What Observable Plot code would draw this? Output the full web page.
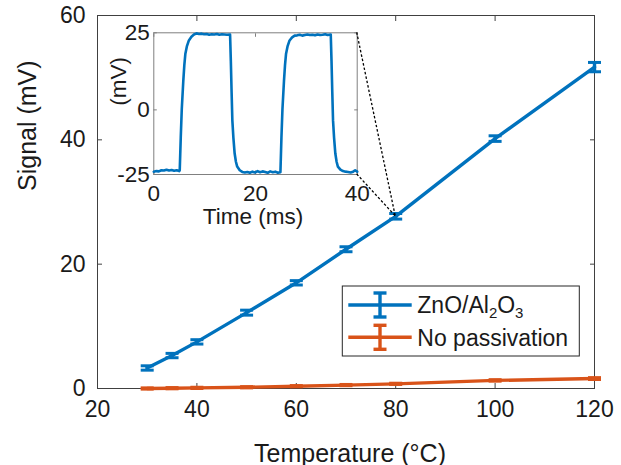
<!DOCTYPE html>
<html><head><meta charset="utf-8">
<script src="https://cdn.jsdelivr.net/npm/d3@7"></script>
<script src="https://cdn.jsdelivr.net/npm/@observablehq/plot@0.6"></script>
<style>
body{margin:0;background:#fff;}
#chart{position:relative;width:621px;height:465px;font-family:"Liberation Sans",Arial,sans-serif;}
#chart svg{position:absolute;left:0;top:0;overflow:visible;}
</style></head><body><div id="chart"></div>
<script>
// ---- data ----
const temperatures = [30, 35, 40, 50, 60, 70, 80, 100, 120];
const znoSignal    = [3.3, 5.3, 7.5, 12.2, 17.0, 22.4, 27.7, 40.2, 51.7];
const znoError     = [0.35, 0.35, 0.35, 0.4, 0.35, 0.4, 0.45, 0.45, 0.75];
const noPassSignal = [0.0, 0.05, 0.1, 0.2, 0.37, 0.55, 0.75, 1.3, 1.6];
const noPassError  = [0.1, 0.1, 0.1, 0.1, 0.1, 0.1, 0.1, 0.12, 0.15];
const seriesNames  = ["ZnO/Al2O3", "No passivation"];
const seriesColors = ["#0072BD", "#D95319"];
const xTicks = [20, 40, 60, 80, 100, 120];
const yTicks = [0, 20, 40, 60];

const insetTime = [
  0,0.5,1,1.5,2,2.5,3,3.5,4,4.5,5,5.1,
  5.3,5.5,5.8,6.0,6.2,6.5,6.9,7.4,7.9,
  8.4,8.9,9.4,9.9,10.4,10.9,11.4,11.9,12.4,12.9,13.4,13.9,14.4,15.0,
  15.15,15.3,15.45,15.65,15.9,16.15,16.4,16.9,17.4,
  17.9,18.4,18.9,19.4,19.9,20.4,20.9,21.4,21.9,22.4,22.9,23.4,23.9,24.4,24.9,
  25.1,25.3,25.6,25.8,26.0,26.3,26.7,27.2,27.7,
  28.2,28.7,29.2,29.7,30.2,30.7,31.2,31.7,32.2,32.7,33.2,33.7,34.2,34.8,
  34.95,35.1,35.25,35.45,35.7,35.95,36.2,36.7,37.2,
  37.7,38.2,38.7,39.2,39.6,40
];
const insetSignal = [
  -24.0,-23.8,-23.9,-23.5,-23.6,-23.3,-23.6,-23.4,-23.7,-23.5,-23.8,-23.5,
  -12,-2,8,13.5,17.5,20.2,22.3,23.6,24.4,
  24.8,24.6,24.7,24.5,24.6,24.3,24.5,24.4,24.6,24.3,24.5,24.4,24.3,24.4,
  15,4,-6,-12,-17.6,-20.5,-22.2,-23.5,-24.1,
  -24.3,-24.1,-24.4,-24.0,-24.3,-23.8,-24.2,-23.9,-24.1,-24.4,-23.9,-24.2,-24.0,-24.4,-24.2,
  -12,-2,8,13.5,17.5,20.2,22.3,23.4,24.0,
  24.1,24.3,24.0,24.2,24.4,24.2,24.3,24.1,24.4,24.2,24.3,24.5,24.2,24.4,
  15,4,-6,-12,-17.6,-20.5,-22.2,-23.3,-23.8,
  -24.0,-24.1,-24.3,-24.0,-23.5,-24.0
];
const insetXTicks = [0, 20, 40];
const insetYTickValues = [-25, -2.2, 25];
const insetYTickLabels = ["-25", "0", "25"];
const zoomIndex = 6; // the 80 °C point that the inset zooms into

// ---- build ----
const font = '"Liberation Sans", Arial, Helvetica, sans-serif';
const axisColor = "#404040";
const textColor = "#1a1a1a";
const lw = 3.4;
const series = [
  {name: seriesNames[0], color: seriesColors[0], rows: temperatures.map((t,i)=>({x:t, y:znoSignal[i], e:znoError[i]}))},
  {name: seriesNames[1], color: seriesColors[1], rows: temperatures.map((t,i)=>({x:t, y:noPassSignal[i], e:noPassError[i]}))}
];
const capSymbol = {draw(ctx){ ctx.moveTo(-6.5,0); ctx.lineTo(6.5,0); }};

const seriesMarks = series.flatMap(s => [
  Plot.line(s.rows, {x:"x", y:"y", stroke:s.color, strokeWidth:lw}),
  Plot.ruleX(s.rows, {x:"x", y1:d=>d.y-d.e, y2:d=>d.y+d.e, stroke:s.color, strokeWidth:lw}),
  Plot.dot(s.rows, {x:"x", y:d=>d.y+d.e, symbol:capSymbol, stroke:s.color, strokeWidth:3, fill:"none"}),
  Plot.dot(s.rows, {x:"x", y:d=>d.y-d.e, symbol:capSymbol, stroke:s.color, strokeWidth:3, fill:"none"})
]);

const main = Plot.plot({
  width:621, height:465,
  marginLeft:97, marginRight:27, marginTop:15, marginBottom:77,
  style:{fontFamily:font, fontSize:"23px", color:textColor, background:"transparent", overflow:"visible"},
  x:{domain:[20,120]}, y:{domain:[0,60]},
  marks:[
    Plot.axisX({ticks:xTicks, anchor:"bottom", tickSize:0, tickPadding:12.5, label:null, fontSize:23}),
    Plot.axisY({ticks:yTicks, anchor:"left", tickSize:0, tickPadding:12, label:null, fontSize:23}),
    Plot.axisX({ticks:xTicks, anchor:"bottom", tickSize:5, dy:-5, text:null, label:null, stroke:axisColor}),
    Plot.axisX({ticks:xTicks, anchor:"top", tickSize:5, dy:5, text:null, label:null, stroke:axisColor}),
    Plot.axisY({ticks:yTicks, anchor:"left", tickSize:5, dx:5, text:null, label:null, stroke:axisColor}),
    Plot.axisY({ticks:yTicks, anchor:"right", tickSize:5, dx:-5, text:null, label:null, stroke:axisColor}),
    Plot.frame({stroke:axisColor, strokeWidth:1}),
    ...seriesMarks,
    Plot.text(["Temperature (°C)"], {frameAnchor:"bottom", dy:65, dx:4, lineAnchor:"middle", fontSize:25, fill:textColor}),
    Plot.text(["Signal (mV)"], {frameAnchor:"left", dx:-70, dy:-11, rotate:-90, lineAnchor:"middle", fontSize:25, fill:textColor})
  ]
});

const insetRows = insetTime.map((t,i)=>({t, v:insetSignal[i]}));
const insetColor = "#808080";
const inset = Plot.plot({
  width:621, height:465,
  marginLeft:153.3, marginRight:264.3, marginTop:32.3, marginBottom:291,
  style:{fontFamily:font, fontSize:"22.5px", color:textColor, background:"transparent", overflow:"visible"},
  x:{domain:[insetXTicks[0], insetXTicks[insetXTicks.length-1]]},
  y:{domain:[insetYTickValues[0], insetYTickValues[insetYTickValues.length-1]]},
  marks:[
    Plot.axisX({ticks:insetXTicks, anchor:"bottom", tickSize:0, tickPadding:11, label:null, fontSize:22.5}),
    Plot.axisY({ticks:insetYTickValues, anchor:"left", tickSize:0, tickPadding:4, label:null, fontSize:22.5,
      tickFormat:d=>insetYTickLabels[insetYTickValues.indexOf(d)]}),
    Plot.axisX({ticks:insetXTicks, anchor:"bottom", tickSize:3.5, dy:-3.5, text:null, label:null, stroke:insetColor}),
    Plot.axisX({ticks:insetXTicks, anchor:"top", tickSize:3.5, dy:3.5, text:null, label:null, stroke:insetColor}),
    Plot.axisY({ticks:insetYTickValues, anchor:"left", tickSize:3.5, dx:3.5, text:null, label:null, stroke:insetColor}),
    Plot.axisY({ticks:insetYTickValues, anchor:"right", tickSize:3.5, dx:-3.5, text:null, label:null, stroke:insetColor}),
    Plot.frame({stroke:insetColor, strokeWidth:1}),
    Plot.line(insetRows, {x:"t", y:"v", stroke:seriesColors[0], strokeWidth:2.6}),
    Plot.text(["Time (ms)"], {frameAnchor:"bottom", dy:42.7, dx:-2.5, lineAnchor:"middle", fontSize:22.5, fill:textColor}),
    Plot.text(["(mV)"], {frameAnchor:"left", dx:-35.3, dy:2, rotate:-90, lineAnchor:"middle", fontSize:22.5, fill:textColor})
  ]
});

const chart = document.getElementById("chart");
chart.appendChild(main);
chart.appendChild(inset);

// dotted connector lines from inset corners to the zoomed data point
const mx = main.scale("x"), my = main.scale("y");
const ix = inset.scale("x"), iy = inset.scale("y");
const target = [mx.apply(temperatures[zoomIndex]), my.apply(znoSignal[zoomIndex])];
const xMax = insetXTicks[insetXTicks.length-1];
const corners = [[ix.apply(xMax), iy.apply(insetYTickValues[2])], [ix.apply(xMax), iy.apply(insetYTickValues[0])]];
const ov = d3.select(inset).append("g");
corners.forEach(c => {
  ov.append("line").attr("x1", c[0]).attr("y1", c[1]).attr("x2", target[0]).attr("y2", target[1])
    .attr("stroke", "#000").attr("stroke-width", 1.3).attr("stroke-dasharray", "2.5,2");
});

// legend
const lg = d3.select(inset).append("g");
lg.append("rect").attr("x", 342.3).attr("y", 286).attr("width", 237).attr("height", 70)
  .attr("fill", "#fff").attr("stroke", "#262626").attr("stroke-width", 1);
const seg = (x1, y1, x2, y2, color) => lg.append("line")
  .attr("x1", x1).attr("y1", y1).attr("x2", x2).attr("y2", y2)
  .attr("stroke", color).attr("stroke-width", lw).style("stroke-width", lw + "px");
series.forEach((s, i) => {
  const cy = 305 + i * 32.3;
  seg(348.3, cy, 411.7, cy, s.color);
  seg(380, cy - 12, 380, cy + 12, s.color);
  seg(373.5, cy - 12, 386.5, cy - 12, s.color);
  seg(373.5, cy + 12, 386.5, cy + 12, s.color);
  const t = lg.append("text").attr("x", 417.3).attr("y", cy).attr("dy", "0.36em")
    .attr("text-anchor", "start").style("text-anchor", "start")
    .style("font-family", font).style("font-size", "23px").attr("fill", textColor);
  if (i === 0) {
    t.append("tspan").text("ZnO/Al");
    t.append("tspan").style("font-size", "15px").attr("dy", 5).text("2");
    t.append("tspan").attr("dy", -5).text("O");
    t.append("tspan").style("font-size", "15px").attr("dy", 5).text("3");
  } else {
    t.text(s.name);
  }
});
</script></body></html>
